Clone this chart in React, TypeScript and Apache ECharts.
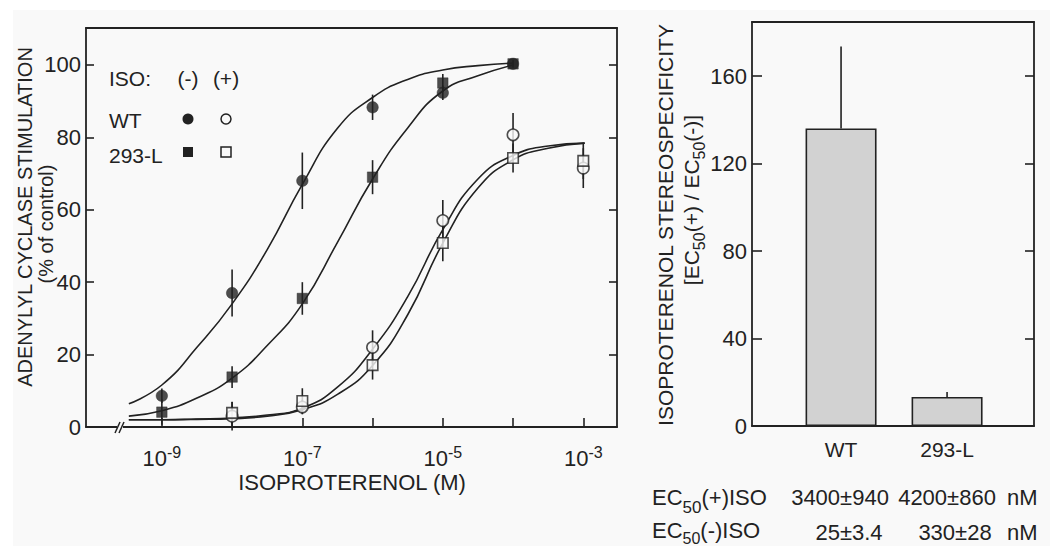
import React, { useEffect, useRef } from 'react';
import * as echarts from 'echarts';

const FONT = "'Liberation Sans', Arial, Helvetica, sans-serif";
const INK = '#222222';
const PAPER = '#f9f9f9';

// ---------- left panel: dose-response ----------
const doseTickExponents = [-9, -8, -7, -6, -5, -4, -3];
const doseLabelExponents = [-9, -7, -5, -3];
const stimTicks = [0, 20, 40, 60, 80, 100];

const wtMinusX = [-9, -8, -7, -6, -5, -4];
const wtMinusY = [8.6, 37, 68, 88.3, 92.3, 100.3];
const wtMinusErr = [2, 6.5, 7.8, 3.5, 2, 1];

const l293MinusX = [-9, -8, -7, -6, -5, -4];
const l293MinusY = [4.1, 13.8, 35.5, 69, 95, 100.3];
const l293MinusErr = [3.5, 3, 4.5, 4.7, 2.5, 1];

const wtPlusX = [-8, -7, -6, -5, -4, -3];
const wtPlusY = [3, 5.5, 22, 57, 80.7, 71.5];
const wtPlusErr = [4, 2, 4.7, 5.7, 6, 5.5];

const l293PlusX = [-8, -7, -6, -5, -4, -3];
const l293PlusY = [3.9, 7.2, 17.1, 50.8, 74.3, 73.5];
const l293PlusErr = [3, 3.5, 4, 5, 4, 5];

// fitted curves
const curveMinusX = [-9.47, -9, -8.5, -8, -7.5, -7, -6.5, -6, -5.5, -5, -4.5, -4];
const wtMinusCurve = [6.4, 11.6, 22, 34, 49, 67, 82.5, 91, 96, 98.6, 99.8, 100.5];
const l293MinusCurve = [3.0, 4.5, 8, 13.5, 22.5, 34, 51, 68.5, 82.6, 92.8, 97, 100];

const curvePlusX = [-9.47, -9, -8.5, -8, -7.5, -7, -6.5, -6, -5.5, -5, -4.5, -4, -3.5, -2.98];
const wtPlusCurve = [2, 2, 2.2, 2.5, 3.3, 5.2, 11, 21.5, 36, 54.5, 68.5, 75, 77.6, 78.4];
const l293PlusCurve = [2, 2, 2.1, 2.3, 3, 4.8, 9, 17, 31, 50.8, 66, 73.8, 77, 78.4];

// ---------- right panel: stereospecificity ----------
const strains = ['WT', '293-L'];
const strainPos = [0, 1];
const stereoRatio = [136, 13.3];
const stereoErr = [37.5, 2.3];
const ratioTicks = [0, 40, 80, 120, 160];

// ---------- EC50 table ----------
const ec50PlusValues = ['3400±940', '4200±860'];
const ec50MinusValues = ['25±3.4', '330±28'];
const ec50Unit = 'nM';

const zip = (xs: number[], ys: number[]) => xs.map((x, i) => [x, ys[i]]);
const zip3 = (xs: number[], ys: number[], es: number[]) => xs.map((x, i) => [x, ys[i], es[i]]);

const errRender = (upOnly: boolean) => (params: any, api: any) => {
  const x = api.value(0);
  const y = api.value(1);
  const e = api.value(2);
  const a = api.coord([x, upOnly ? y : y - e]);
  const b = api.coord([x, y + e]);
  return {
    type: 'line',
    shape: { x1: a[0], y1: a[1], x2: b[0], y2: b[1] },
    style: { stroke: INK, lineWidth: 1.6 },
  };
};

const axisLineStyle = { color: INK, width: 1.8 };
const tickStyle = { color: INK, width: 1.6 };
const labelBase = { color: INK, fontFamily: FONT, fontSize: 22 };

const curveSeries = (xs: number[], ys: number[]) => ({
  type: 'line',
  xAxisIndex: 0,
  yAxisIndex: 0,
  data: zip(xs, ys),
  symbol: 'none',
  smooth: 0.5,
  lineStyle: { color: INK, width: 1.6 },
  z: 2,
  silent: true,
});

const errSeries = (xs: number[], ys: number[], es: number[], xi: number, upOnly = false) => ({
  type: 'custom',
  xAxisIndex: xi,
  yAxisIndex: xi,
  data: zip3(xs, ys, es),
  encode: { x: 0, y: 1 },
  renderItem: errRender(upOnly),
  z: 3,
  silent: true,
});

const markerSeries = (xs: number[], ys: number[], symbol: string, filled: boolean, size: number) => ({
  type: 'scatter',
  xAxisIndex: 0,
  yAxisIndex: 0,
  data: zip(xs, ys),
  symbol,
  symbolSize: size,
  itemStyle: filled
    ? { color: INK, borderColor: INK, borderWidth: 0.5 }
    : { color: PAPER, borderColor: INK, borderWidth: 1.6 },
  z: 4,
  silent: true,
});

// rich styles for "EC50" subscripts; d = how far the subscript centre drops below the main centre
const richEC = (fs: number, sub: number, d: number) => {
  const lh = 2 * d + sub;
  return {
    a: { fontSize: fs, lineHeight: lh, fontFamily: FONT, fill: INK, color: INK },
    s: { fontSize: sub, lineHeight: sub, fontFamily: FONT, fill: INK, color: INK, verticalAlign: 'bottom' },
  };
};

const txt = (text: string, x: number, y: number, fontSize: number, align = 'left', extra: any = {}) => ({
  type: 'text',
  x,
  y,
  z: 10,
  silent: true,
  ...extra,
  style: {
    text,
    fontSize,
    fontFamily: FONT,
    fill: INK,
    align,
    textAlign: align,
    verticalAlign: 'middle',
    textVerticalAlign: 'middle',
    ...(extra.style || {}),
  },
});

const valueAxisBase = { type: 'value', splitLine: { show: false } };

const option: any = {
  animation: false,
  backgroundColor: 'transparent',
  grid: [
    { left: 86, top: 28, width: 531, height: 399, containLabel: false },
    { left: 752, top: 22, width: 282, height: 404, containLabel: false },
  ],
  xAxis: [
    {
      ...valueAxisBase,
      gridIndex: 0,
      position: 'bottom',
      min: -10.08,
      max: -2.52,
      axisLine: { onZero: false, lineStyle: axisLineStyle },
      axisTick: { inside: true, length: 9, customValues: doseTickExponents, lineStyle: tickStyle },
      axisLabel: {
        customValues: doseLabelExponents,
        margin: 17,
        formatter: (v: number) => `{b|10}{s|${v}}`,
        rich: {
          b: { fontSize: 22, lineHeight: 28, fontFamily: FONT, color: INK, verticalAlign: 'middle' },
          s: { fontSize: 16, lineHeight: 16, fontFamily: FONT, color: INK, verticalAlign: 'top' },
        },
      },
    },
    {
      ...valueAxisBase,
      gridIndex: 0,
      position: 'top',
      min: -10.08,
      max: -2.52,
      axisLine: { onZero: false, lineStyle: axisLineStyle },
      axisTick: { show: false },
      axisLabel: { show: false },
    },
    {
      ...valueAxisBase,
      gridIndex: 1,
      position: 'bottom',
      min: -0.84,
      max: 1.82,
      axisLine: { onZero: false, lineStyle: axisLineStyle },
      axisTick: { show: false },
      axisLabel: {
        ...labelBase,
        fontSize: 21,
        customValues: strainPos,
        margin: 13,
        formatter: (v: number) => strains[Math.round(v)],
      },
    },
    {
      ...valueAxisBase,
      gridIndex: 1,
      position: 'top',
      min: -0.84,
      max: 1.82,
      axisLine: { onZero: false, lineStyle: axisLineStyle },
      axisTick: { show: false },
      axisLabel: { show: false },
    },
  ],
  yAxis: [
    {
      ...valueAxisBase,
      gridIndex: 0,
      position: 'left',
      min: 0,
      max: 110.2,
      axisLine: { show: true, onZero: false, lineStyle: axisLineStyle },
      axisTick: { show: true, inside: true, length: 8, customValues: stimTicks, lineStyle: tickStyle },
      axisLabel: { ...labelBase, customValues: stimTicks, margin: 5 },
    },
    {
      ...valueAxisBase,
      gridIndex: 0,
      position: 'right',
      min: 0,
      max: 110.2,
      axisLine: { show: true, onZero: false, lineStyle: axisLineStyle },
      axisTick: { show: true, inside: true, length: 8, customValues: stimTicks, lineStyle: tickStyle },
      axisLabel: { show: false },
    },
    {
      ...valueAxisBase,
      gridIndex: 1,
      position: 'left',
      min: 0,
      max: 184.7,
      axisLine: { show: true, onZero: false, lineStyle: axisLineStyle },
      axisTick: { show: true, inside: true, length: 10, customValues: ratioTicks, lineStyle: tickStyle },
      axisLabel: { ...labelBase, customValues: ratioTicks, margin: 5 },
    },
    {
      ...valueAxisBase,
      gridIndex: 1,
      position: 'right',
      min: 0,
      max: 184.7,
      axisLine: { show: true, onZero: false, lineStyle: axisLineStyle },
      axisTick: { show: true, inside: true, length: 9, customValues: ratioTicks, lineStyle: tickStyle },
      axisLabel: { show: false },
    },
  ],
  series: [
    curveSeries(curveMinusX, wtMinusCurve),
    curveSeries(curveMinusX, l293MinusCurve),
    curveSeries(curvePlusX, wtPlusCurve),
    curveSeries(curvePlusX, l293PlusCurve),
    errSeries(wtMinusX, wtMinusY, wtMinusErr, 0),
    errSeries(l293MinusX, l293MinusY, l293MinusErr, 0),
    errSeries(wtPlusX, wtPlusY, wtPlusErr, 0),
    errSeries(l293PlusX, l293PlusY, l293PlusErr, 0),
    markerSeries(wtMinusX, wtMinusY, 'circle', true, 11.5),
    markerSeries(l293MinusX, l293MinusY, 'rect', true, 10.5),
    markerSeries(wtPlusX, wtPlusY, 'circle', false, 11.5),
    markerSeries(l293PlusX, l293PlusY, 'rect', false, 10.5),
    {
      type: 'bar',
      xAxisIndex: 2,
      yAxisIndex: 2,
      data: zip(strainPos, stereoRatio),
      barWidth: 71,
      itemStyle: { color: '#d2d2d2', borderColor: INK, borderWidth: 1.6 },
      z: 2,
      silent: true,
    },
    errSeries(strainPos, stereoRatio, stereoErr, 2, true),
  ],
  graphic: [
    // axis break on the dose axis
    { type: 'rect', z: 10, silent: true, shape: { x: 117, y: 424, width: 6, height: 6 }, style: { fill: PAPER } },
    { type: 'line', z: 11, silent: true, shape: { x1: 115, y1: 433, x2: 120, y2: 422 }, style: { stroke: INK, lineWidth: 1.5 } },
    { type: 'line', z: 11, silent: true, shape: { x1: 119, y1: 433, x2: 124, y2: 422 }, style: { stroke: INK, lineWidth: 1.5 } },

    // legend block
    txt('ISO:', 109, 78, 21),
    txt('(-)', 188, 78, 21, 'center'),
    txt('(+)', 226, 78, 21, 'center'),
    txt('WT', 109, 120, 21),
    txt('293-L', 109, 155, 21),
    { type: 'circle', z: 10, silent: true, shape: { cx: 188, cy: 119, r: 5.5 }, style: { fill: INK } },
    { type: 'circle', z: 10, silent: true, shape: { cx: 226, cy: 119, r: 5 }, style: { fill: PAPER, stroke: INK, lineWidth: 1.5 } },
    { type: 'rect', z: 10, silent: true, shape: { x: 183, y: 147, width: 10, height: 10 }, style: { fill: INK } },
    { type: 'rect', z: 10, silent: true, shape: { x: 221, y: 147, width: 10, height: 10 }, style: { fill: PAPER, stroke: INK, lineWidth: 1.5 } },

    // left axis titles
    txt('ADENYLYL CYCLASE STIMULATION', 25, 217, 20, 'center', { rotation: Math.PI / 2 }),
    txt('(% of control)', 46, 224, 20, 'center', { rotation: Math.PI / 2 }),
    txt('ISOPROTERENOL (M)', 352, 482, 22, 'center'),

    // right axis titles
    txt('ISOPROTERENOL STEREOSPECIFICITY', 665, 225, 21, 'center', { rotation: Math.PI / 2 }),
    txt('{a|[EC}{s|50}{a|(+) / EC}{s|50}{a|(-)]}', 691, 200, 21, 'center', {
      rotation: Math.PI / 2,
      style: { rich: richEC(21, 16, 8) },
    }),

    // EC50 table
    txt('{a|EC}{s|50}{a|(+)ISO}', 652, 497, 22, 'left', { style: { rich: richEC(22, 17, 10) } }),
    txt('{a|EC}{s|50}{a|(-)ISO}', 652, 530, 22, 'left', { style: { rich: richEC(22, 16, 8) } }),
    txt(ec50PlusValues[0], 840, 497, 22, 'center'),
    txt(ec50PlusValues[1], 947, 497, 22, 'center'),
    txt(ec50MinusValues[0], 849, 532, 22, 'center'),
    txt(ec50MinusValues[1], 955, 532, 22, 'center'),
    txt(ec50Unit, 1007, 497, 22, 'left'),
    txt(ec50Unit, 1007, 532, 22, 'left'),
  ],
};

export default function App() {
  const ref = useRef<HTMLDivElement>(null);
  useEffect(() => {
    document.body.style.margin = '0';
    if (!ref.current) return;
    const chart = echarts.init(ref.current, null, { renderer: 'svg' });
    chart.setOption(option);
    return () => chart.dispose();
  }, []);
  return (
    <div style={{ position: 'relative', width: 1050, height: 546, background: '#ffffff', overflow: 'hidden' }}>
      <div style={{ position: 'absolute', left: 13, top: 10, right: 0, bottom: 0, background: PAPER }} />
      <div ref={ref} style={{ position: 'absolute', left: 0, top: 0, width: 1050, height: 546 }} />
    </div>
  );
}
